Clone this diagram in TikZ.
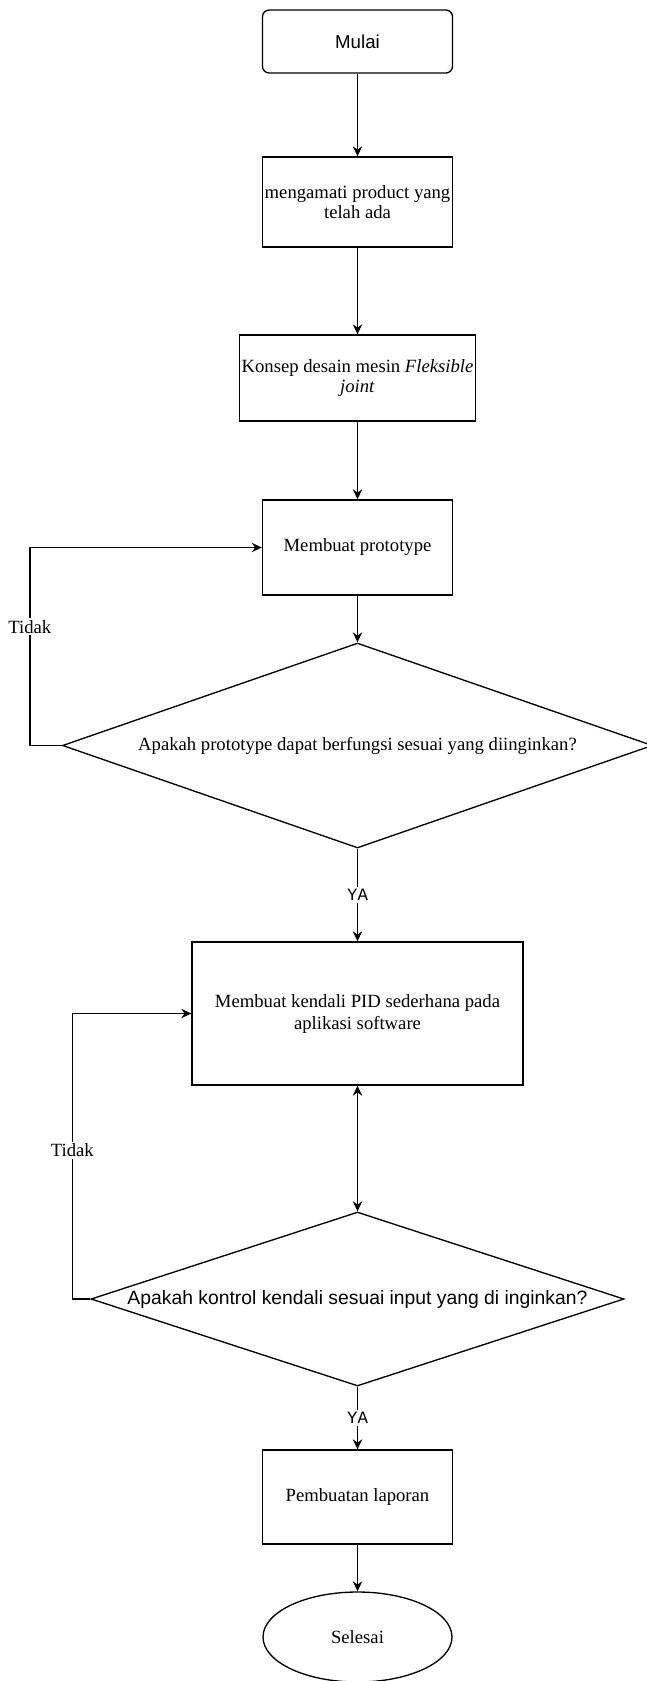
\documentclass[tikz,border=0pt]{standalone}
\usepackage{fontspec}
\setmainfont{Liberation Serif}
\setsansfont{Liberation Sans}
\setmonofont{Liberation Mono}
\usetikzlibrary{shapes.geometric,arrows.meta}

\begin{document}
\begin{tikzpicture}[x=0.75pt,y=-0.75pt,
    every node/.style={font=\fontsize{14}{15.5}\selectfont, inner sep=0pt, align=center},
    proses/.style={draw, line width=1pt, minimum width=142.5pt, minimum height=70.5pt},
    keputusan/.style={draw, line width=1pt, diamond},
    panah/.style={line width=1pt, -{Stealth[length=7.5pt,width=7pt]}},
    duapanah/.style={line width=1pt, {Stealth[length=7.5pt,width=7pt]}-{Stealth[length=7.5pt,width=7pt]}},
    ket/.style={fill=white, inner sep=1.5pt},
    ya/.style={fill=white, inner sep=1.5pt, font=\ttfamily\fontsize{13}{13}\selectfont}]
        \useasboundingbox (0,0) rectangle (646,1681);
        \node[draw, line width=1pt, rounded corners=5pt, minimum width=142.5pt, minimum height=47.25pt,
          font=\sffamily\fontsize{14}{16}\selectfont] (mulai) at (357.5,41.5) {Mulai};
        \node[proses, minimum height=67.5pt] (amati) at (357.5,202) {mengamati product yang\\telah ada};
        \node[proses, minimum width=177pt, minimum height=64.5pt] (konsep) at (357.5,378)
          {Konsep desain mesin \textit{Fleksible}\\\textit{joint}};
        \node[proses, minimum height=71.25pt] (proto) at (357.5,547.5) {Membuat prototype};
        \node[keputusan, aspect=2.9, minimum width=442.5pt, minimum height=153.75pt] (cek1) at (357.5,745.5)
          {Apakah prototype dapat berfungsi sesuai yang diinginkan?};
        \node[proses, minimum width=248.25pt, minimum height=107.25pt, font=\fontsize{14}{16.5}\selectfont] (pid) at (357.5,1013.5)
          {Membuat kendali PID sederhana pada\\aplikasi software};
        \node[keputusan, aspect=3.06, minimum width=399.75pt, minimum height=130.5pt,
          font=\sffamily\fontsize{14.5}{16}\selectfont] (cek2) at (357.5,1299)
          {Apakah kontrol kendali sesuai input yang di inginkan?};
        \node[proses] (laporan) at (357.5,1497) {Pembuatan laporan};
        \node[draw, line width=1pt, ellipse, minimum width=141.75pt, minimum height=67.5pt] (selesai) at (357.5,1637) {Selesai};
        \draw[panah] (mulai) -- (amati);
        \draw[panah] (amati) -- (konsep);
        \draw[panah] (konsep) -- (proto);
        \draw[panah] (proto) -- (cek1);
        \draw[panah] (cek1.west) -- ++(-32,0) |- (proto.west) node[ket, pos=0.3] {Tidak};
        \draw[panah] (cek1) -- node[ya] {YA} (pid);
        \draw[duapanah] (pid) -- (cek2);
        \draw[panah] (cek2.west) -- ++(-18,0) |- (pid.west) node[ket, pos=0.26] {Tidak};
        \draw[panah] (cek2) -- node[ya] {YA} (laporan);
        \draw[panah] (laporan) -- (selesai);
      \end{tikzpicture}
\end{document}
